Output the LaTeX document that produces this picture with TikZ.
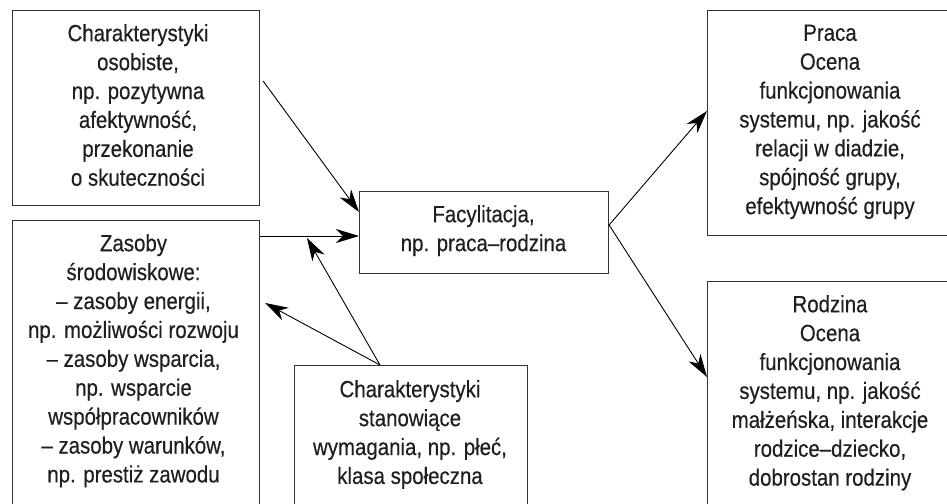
\documentclass[tikz,border=0pt]{standalone}
\usepackage{fontspec}
\setmainfont[FakeStretch=0.87,FakeBold=0.4]{Liberation Sans}
\usetikzlibrary{arrows.meta}
\begin{document}
\begin{tikzpicture}[x=1pt,y=-1pt,
  box/.style={draw=black!80, line width=1.1pt, rectangle, inner sep=0pt, anchor=north west},
  txt/.style={align=center, inner sep=0pt, anchor=north, text=black!88,
    font=\fontsize{23.5}{28.9}\selectfont},
  arr/.style={draw=black, line width=0.9pt, -{Stealth[length=23pt,width=14pt,inset=7pt]}}]
\useasboundingbox (0,0) rectangle (947,503);
\clip (0,0) rectangle (947,503);
% boxes
\node[box, minimum width=247pt, minimum height=195pt] (b1) at (12,10) {};
\node[box, minimum width=247pt, minimum height=300pt] (b2) at (12,220) {};
\node[box, minimum width=249pt, minimum height=82pt]  (b3) at (359,191) {};
\node[box, minimum width=233pt, minimum height=200pt] (b5) at (294,365) {};
\node[box, minimum width=260pt, minimum height=225pt] (b6) at (707,10) {};
\node[box, minimum width=260pt, minimum height=250pt] (b7) at (707,281) {};
% texts
\node[txt] (t1) at (138,24) {Charakterystyki\\osobiste,\\np. pozytywna\\afektywność,\\przekonanie\\o skuteczności};
\node[txt] (t2) at (133.5,234) {Zasoby\\środowiskowe:\\– zasoby energii,\\np. możliwości rozwoju\\– zasoby wsparcia,\\np. wsparcie\\współpracowników\\– zasoby warunków,\\np. prestiż zawodu};
\node[txt] (t3) at (483.5,205) {Facylitacja,\\np. praca–rodzina};
\node[txt] (t5) at (410,380) {Charakterystyki\\stanowiące\\wymagania, np. płeć,\\klasa społeczna};
\node[txt] (t6) at (830,24.4) {Praca\\Ocena\\funkcjonowania\\systemu, np. jakość\\relacji w diadzie,\\spójność grupy,\\efektywność grupy};
\node[txt] (t7) at (830,295) {Rodzina\\Ocena\\funkcjonowania\\systemu, np. jakość\\małżeńska, interakcje\\rodzice–dziecko,\\dobrostan rodziny};
% connectors
\coordinate (p1) at (307,238);
\draw[arr] ([xshift=3pt,yshift=-71pt]b1.north east) -- ([yshift=-21pt]b3.north west);
\draw[arr] ([yshift=-16pt]b2.north east) -- ([yshift=-45pt]b3.north west);
\draw[arr] ([xshift=86pt]b5.north west) -- (p1);
\draw[arr] ([xshift=86pt]b5.north west) -- ([xshift=5pt,yshift=-83pt]b2.north east);
\draw[arr] ([yshift=-34pt]b3.north east) -- ([yshift=-101pt]b6.north west);
\draw[arr] ([yshift=-34pt]b3.north east) -- ([yshift=-96pt]b7.north west);
\end{tikzpicture}
\end{document}
